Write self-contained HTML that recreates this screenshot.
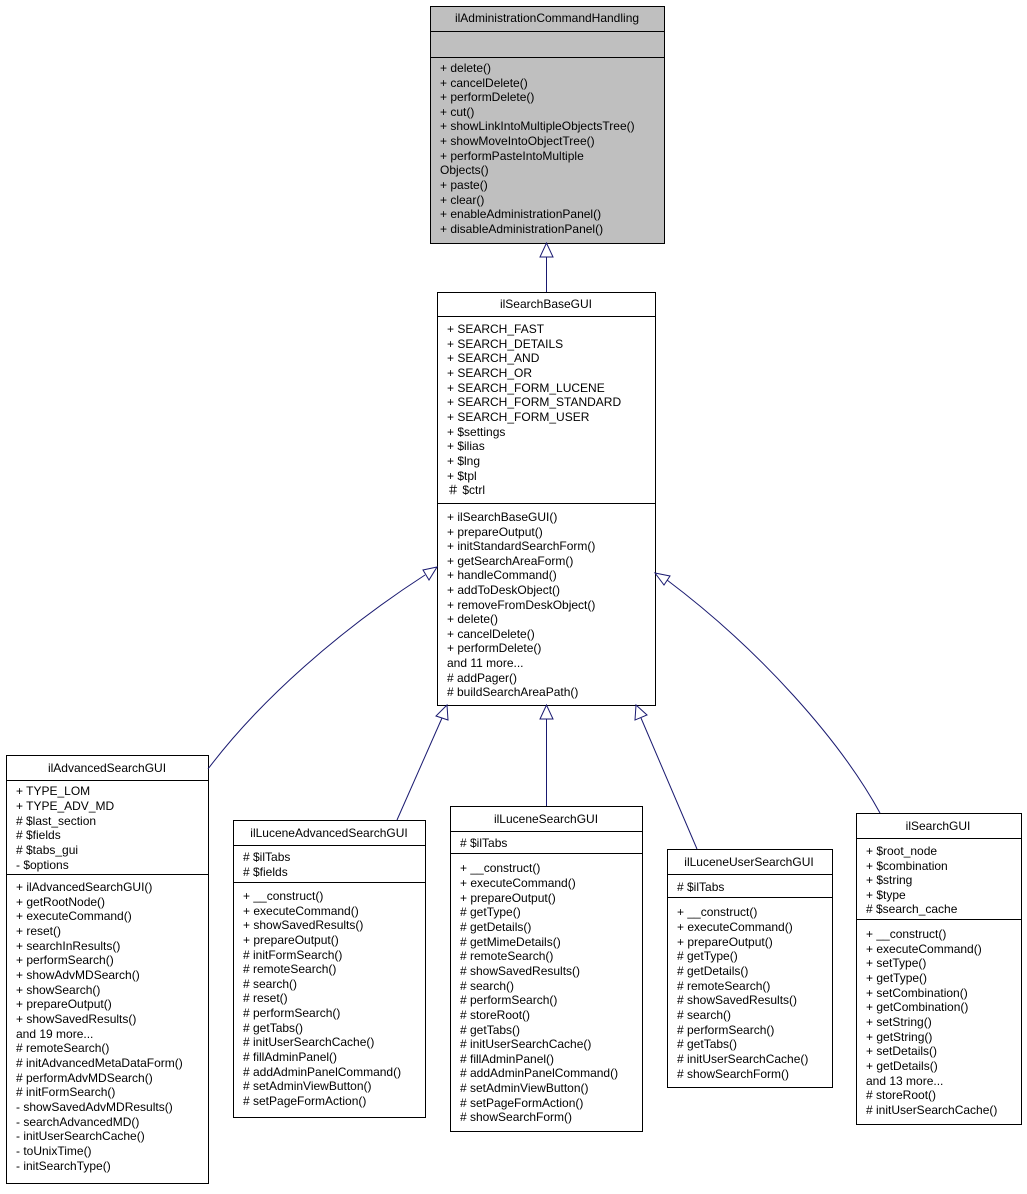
<!DOCTYPE html>
<html><head><meta charset="utf-8"><style>
html,body{margin:0;padding:0;background:#fff}
svg text{font-family:"Liberation Sans",Arial,sans-serif;font-size:12px;fill:#000}
</style></head><body>
<svg width="1027" height="1189" viewBox="0 0 1027 1189" xmlns="http://www.w3.org/2000/svg">
<g stroke="#000" stroke-width="1" fill="none">
<rect x="430.5" y="6.5" width="234" height="237" fill="#bfbfbf"/>
<line x1="430" y1="31.5" x2="664" y2="31.5"/><line x1="430" y1="57.5" x2="664" y2="57.5"/>
<rect x="437.5" y="292.5" width="218" height="413" fill="#fff"/>
<line x1="437" y1="316.5" x2="655" y2="316.5"/><line x1="437" y1="503.5" x2="655" y2="503.5"/>
<rect x="6.5" y="755.5" width="202" height="428" fill="#fff"/>
<line x1="6" y1="780.5" x2="208" y2="780.5"/><line x1="6" y1="874.5" x2="208" y2="874.5"/>
<rect x="233.5" y="820.5" width="192" height="297" fill="#fff"/>
<line x1="233" y1="845.5" x2="425" y2="845.5"/><line x1="233" y1="882.5" x2="425" y2="882.5"/>
<rect x="450.5" y="806.5" width="192" height="325" fill="#fff"/>
<line x1="450" y1="831.5" x2="642" y2="831.5"/><line x1="450" y1="853.5" x2="642" y2="853.5"/>
<rect x="667.5" y="849.5" width="165" height="238" fill="#fff"/>
<line x1="667" y1="874.5" x2="832" y2="874.5"/><line x1="667" y1="897.5" x2="832" y2="897.5"/>
<rect x="856.5" y="813.5" width="165" height="311" fill="#fff"/>
<line x1="856" y1="838.5" x2="1021" y2="838.5"/><line x1="856" y1="919.5" x2="1021" y2="919.5"/>
</g>
<g stroke="#191970" stroke-width="1" fill="none">
<line x1="546.5" y1="292" x2="546.5" y2="257"/>
<polygon points="546.5,243 540,257 553,257" fill="#fff"/>
<path d="M208,769 C260,700 340,630 425,575"/>
<polygon points="437,567 423,570 429,580" fill="#fff"/>
<line x1="397" y1="820" x2="442" y2="718"/>
<polygon points="447,705 436,716 448,720" fill="#fff"/>
<line x1="546.5" y1="806" x2="546.5" y2="719"/>
<polygon points="546.5,705 540,719 553,719" fill="#fff"/>
<line x1="697" y1="849" x2="641" y2="718"/>
<polygon points="636,705 635,720 647,715" fill="#fff"/>
<path d="M880,813 C840,740 760,650 667,580"/>
<polygon points="655,573 664,585 670,576" fill="#fff"/>
</g>
<g text-anchor="middle">
<text x="547" y="22">ilAdministrationCommandHandling</text>
<text x="546" y="308">ilSearchBaseGUI</text>
<text x="107" y="772">ilAdvancedSearchGUI</text>
<text x="329" y="837">ilLuceneAdvancedSearchGUI</text>
<text x="546" y="823">ilLuceneSearchGUI</text>
<text x="749" y="866">ilLuceneUserSearchGUI</text>
<text x="938" y="830">ilSearchGUI</text>
</g>
<g>
<text x="440" y="72">+ delete()</text>
<text x="440" y="87">+ cancelDelete()</text>
<text x="440" y="101">+ performDelete()</text>
<text x="440" y="116">+ cut()</text>
<text x="440" y="130">+ showLinkIntoMultipleObjectsTree()</text>
<text x="440" y="145">+ showMoveIntoObjectTree()</text>
<text x="440" y="160">+ performPasteIntoMultiple</text>
<text x="440" y="174">Objects()</text>
<text x="440" y="189">+ paste()</text>
<text x="440" y="204">+ clear()</text>
<text x="440" y="218">+ enableAdministrationPanel()</text>
<text x="440" y="233">+ disableAdministrationPanel()</text>

<text x="447" y="333">+ SEARCH_FAST</text>
<text x="447" y="348">+ SEARCH_DETAILS</text>
<text x="447" y="362">+ SEARCH_AND</text>
<text x="447" y="377">+ SEARCH_OR</text>
<text x="447" y="392">+ SEARCH_FORM_LUCENE</text>
<text x="447" y="406">+ SEARCH_FORM_STANDARD</text>
<text x="447" y="421">+ SEARCH_FORM_USER</text>
<text x="447" y="436">+ $settings</text>
<text x="447" y="450">+ $ilias</text>
<text x="447" y="465">+ $lng</text>
<text x="447" y="480">+ $tpl</text>
<text x="447" y="494">＃ $ctrl</text>
<text x="447" y="521">+ ilSearchBaseGUI()</text>
<text x="447" y="536">+ prepareOutput()</text>
<text x="447" y="550">+ initStandardSearchForm()</text>
<text x="447" y="565">+ getSearchAreaForm()</text>
<text x="447" y="579">+ handleCommand()</text>
<text x="447" y="594">+ addToDeskObject()</text>
<text x="447" y="609">+ removeFromDeskObject()</text>
<text x="447" y="623">+ delete()</text>
<text x="447" y="638">+ cancelDelete()</text>
<text x="447" y="652">+ performDelete()</text>
<text x="447" y="667">and 11 more...</text>
<text x="447" y="682"># addPager()</text>
<text x="447" y="696"># buildSearchAreaPath()</text>

<text x="16" y="795">+ TYPE_LOM</text>
<text x="16" y="810">+ TYPE_ADV_MD</text>
<text x="16" y="825"># $last_section</text>
<text x="16" y="839"># $fields</text>
<text x="16" y="854"># $tabs_gui</text>
<text x="16" y="869">- $options</text>
<text x="16" y="891">+ ilAdvancedSearchGUI()</text>
<text x="16" y="906">+ getRootNode()</text>
<text x="16" y="920">+ executeCommand()</text>
<text x="16" y="935">+ reset()</text>
<text x="16" y="950">+ searchInResults()</text>
<text x="16" y="964">+ performSearch()</text>
<text x="16" y="979">+ showAdvMDSearch()</text>
<text x="16" y="994">+ showSearch()</text>
<text x="16" y="1008">+ prepareOutput()</text>
<text x="16" y="1023">+ showSavedResults()</text>
<text x="16" y="1038">and 19 more...</text>
<text x="16" y="1052"># remoteSearch()</text>
<text x="16" y="1067"># initAdvancedMetaDataForm()</text>
<text x="16" y="1082"># performAdvMDSearch()</text>
<text x="16" y="1096"># initFormSearch()</text>
<text x="16" y="1111">- showSavedAdvMDResults()</text>
<text x="16" y="1126">- searchAdvancedMD()</text>
<text x="16" y="1140">- initUserSearchCache()</text>
<text x="16" y="1155">- toUnixTime()</text>
<text x="16" y="1170">- initSearchType()</text>

<text x="243" y="861"># $ilTabs</text>
<text x="243" y="876"># $fields</text>
<text x="243" y="900">+ __construct()</text>
<text x="243" y="915">+ executeCommand()</text>
<text x="243" y="929">+ showSavedResults()</text>
<text x="243" y="944">+ prepareOutput()</text>
<text x="243" y="959"># initFormSearch()</text>
<text x="243" y="973"># remoteSearch()</text>
<text x="243" y="988"># search()</text>
<text x="243" y="1002"># reset()</text>
<text x="243" y="1017"># performSearch()</text>
<text x="243" y="1032"># getTabs()</text>
<text x="243" y="1046"># initUserSearchCache()</text>
<text x="243" y="1061"># fillAdminPanel()</text>
<text x="243" y="1076"># addAdminPanelCommand()</text>
<text x="243" y="1090"># setAdminViewButton()</text>
<text x="243" y="1105"># setPageFormAction()</text>

<text x="460" y="847"># $ilTabs</text>
<text x="460" y="872">+ __construct()</text>
<text x="460" y="887">+ executeCommand()</text>
<text x="460" y="902">+ prepareOutput()</text>
<text x="460" y="916"># getType()</text>
<text x="460" y="931"># getDetails()</text>
<text x="460" y="946"># getMimeDetails()</text>
<text x="460" y="960"># remoteSearch()</text>
<text x="460" y="975"># showSavedResults()</text>
<text x="460" y="990"># search()</text>
<text x="460" y="1004"># performSearch()</text>
<text x="460" y="1019"># storeRoot()</text>
<text x="460" y="1034"># getTabs()</text>
<text x="460" y="1048"># initUserSearchCache()</text>
<text x="460" y="1063"># fillAdminPanel()</text>
<text x="460" y="1077"># addAdminPanelCommand()</text>
<text x="460" y="1092"># setAdminViewButton()</text>
<text x="460" y="1107"># setPageFormAction()</text>
<text x="460" y="1121"># showSearchForm()</text>

<text x="677" y="891"># $ilTabs</text>
<text x="677" y="916">+ __construct()</text>
<text x="677" y="931">+ executeCommand()</text>
<text x="677" y="946">+ prepareOutput()</text>
<text x="677" y="960"># getType()</text>
<text x="677" y="975"># getDetails()</text>
<text x="677" y="990"># remoteSearch()</text>
<text x="677" y="1004"># showSavedResults()</text>
<text x="677" y="1019"># search()</text>
<text x="677" y="1034"># performSearch()</text>
<text x="677" y="1048"># getTabs()</text>
<text x="677" y="1063"># initUserSearchCache()</text>
<text x="677" y="1078"># showSearchForm()</text>

<text x="866" y="855">+ $root_node</text>
<text x="866" y="870">+ $combination</text>
<text x="866" y="884">+ $string</text>
<text x="866" y="899">+ $type</text>
<text x="866" y="913"># $search_cache</text>
<text x="866" y="938">+ __construct()</text>
<text x="866" y="953">+ executeCommand()</text>
<text x="866" y="967">+ setType()</text>
<text x="866" y="982">+ getType()</text>
<text x="866" y="997">+ setCombination()</text>
<text x="866" y="1011">+ getCombination()</text>
<text x="866" y="1026">+ setString()</text>
<text x="866" y="1041">+ getString()</text>
<text x="866" y="1055">+ setDetails()</text>
<text x="866" y="1070">+ getDetails()</text>
<text x="866" y="1085">and 13 more...</text>
<text x="866" y="1099"># storeRoot()</text>
<text x="866" y="1114"># initUserSearchCache()</text>
</g>
</svg>
</body></html>
